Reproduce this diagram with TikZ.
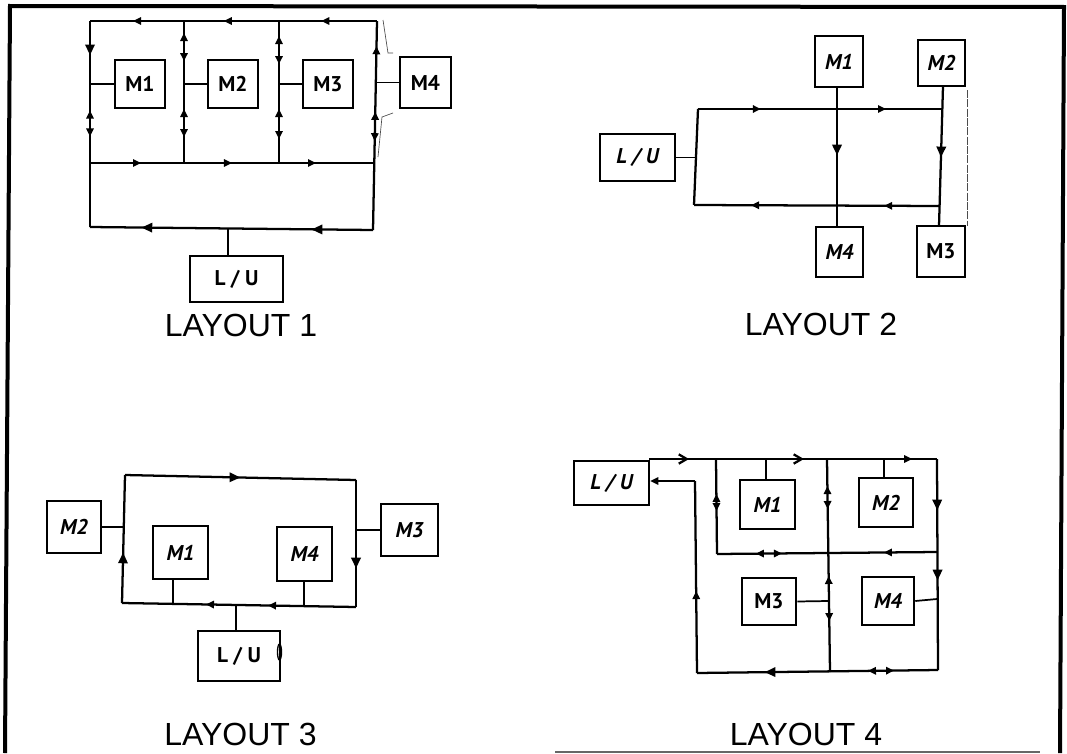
\documentclass[tikz,border=0pt]{standalone}
\usepackage{fontspec}
\setmainfont{Liberation Sans}
\newfontfamily\handfont{PT Sans}
\usetikzlibrary{arrows.meta,decorations.markings,calc}
\tikzset{
  bx/.style 2 args={draw,line width=1.9pt,inner sep=0pt,font=\handfont\bfseries\fontsize{16}{16}\selectfont,minimum width=#1*0.75pt,minimum height=#2*0.75pt},
  bus/.style={line width=1.7pt,line join=miter},
  stub/.style={line width=1.3pt},
  captxt/.style={font=\fontsize{24}{26}\selectfont,inner sep=0pt},
  mf/.style={postaction={decorate,decoration={markings,mark=at position #1 with {\pgftransformxshift{3pt}\arrow{Triangle[length=6pt,width=5.5pt]}}}}},
  mb/.style={postaction={decorate,decoration={markings,mark=at position #1 with {\pgftransformxshift{-3pt}\arrowreversed{Triangle[length=6pt,width=5.5pt]}}}}},
  mg/.style={postaction={decorate,decoration={markings,mark=at position #1 with {\pgftransformxshift{4pt}\arrow{Triangle[length=8pt,width=7pt]}}}}},
  mo/.style={postaction={decorate,decoration={markings,mark=at position #1 with {\pgftransformxshift{3pt}\arrow{Straight Barb[length=6pt,width=7pt]}}}}},
  scan/.style={line width=0.5pt,black!70},
}
\begin{document}
\begin{tikzpicture}[x=0.75pt,y=-0.75pt]
\useasboundingbox (0,0) rectangle (1067,753);
\fill[white] (0,0) rectangle (1067,753);
\draw[line width=3pt] (5,753) -- (10,6) -- (1064,7) -- (1060,753);
\draw[line width=1pt,black!60] (555,752) -- (1040,752);

% LAYOUT 1
\node[bx={50}{48}] (a1) at (140,84) {M1};
\node[bx={50}{48}] (a2) at (233,84) {M2};
\node[bx={50}{48}] (a3) at (328,84) {M3};
\node[bx={51}{51}] (a4) at (425.5,82.5) {M4};
\node[bx={93}{46}] (alu) at (236.5,279) {L / U};
\coordinate (atl) at (90,21);
\coordinate (atr) at (377,21);
\coordinate (aml) at (90,163);
\coordinate (amr) at (375,163);
\coordinate (abl) at (90,227);
\coordinate (abr) at (373,230);
\coordinate (at2) at (184,21);
\coordinate (am2) at (184,163);
\coordinate (at3) at (279,21);
\coordinate (am3) at (279,163);
\coordinate (alus) at (228,229);
\draw[bus,mf=.18,mf=.52,mf=.836] (atr) -- (atl);
\draw[bus,mg=.14,mb=.454,mf=.541] (atl) -- (abl);
\draw[bus,mb=.14,mb=.454,mf=.556] (atr) -- (abr);
\draw[bus,mb=.113,mf=.254,mb=.648,mf=.789] (at2) -- (am2);
\draw[bus,mb=.134,mf=.275,mb=.648,mf=.803] (at3) -- (am3);
\draw[bus,mf=.165,mf=.484,mf=.779] (aml) -- (amr);
\draw[bus,mg=.198,mg=.799] (abr) -- (abl);
\draw[stub] (a1.west) -- (a1.west -| atl);
\draw[stub] (a2.west) -- (a2.west -| at2);
\draw[stub] (a3.west) -- (a3.west -| at3);
\draw[stub] (a4.west) -- (a4.west -| amr);
\draw[stub] (alus) -- (alus |- alu.north);
\node[captxt] (ac) at (241,325) {LAYOUT 1};
\draw[scan] (383,20) -- (388,53) -- (393,53);
\draw[scan] (393,113) -- (382,117) -- (378,157);

% LAYOUT 2
\node[bx={75}{47}] (blu) at (637.5,157.5) {\itshape L / U};
\node[bx={48}{51}] (b1) at (839,61.5) {\itshape M1};
\node[bx={47}{46}] (b2) at (941.5,63) {\itshape M2};
\node[bx={47}{50}] (b4) at (839.5,252) {\itshape M4};
\node[bx={48}{51}] (b3) at (941,251.5) {M3};
\coordinate (btl) at (698,109);
\coordinate (btr) at (943,109);
\coordinate (bbl) at (694,205);
\coordinate (bbr) at (940,206);
\coordinate (bm1) at (837,87);
\coordinate (bm4) at (837,227);
\coordinate (bm2) at (943,86);
\coordinate (bm3) at (939,226);
\draw[bus] (btl) -- (bbl);
\draw[bus,mf=.24,mf=.751] (btl) -- (btr);
\draw[bus,mf=.211,mf=.752] (bbr) -- (bbl);
\draw[bus,mg=.45] (bm1) -- (bm4);
\draw[bus,mg=.471] (bm2) -- (bm3);
\draw[stub] (blu.east) -- (blu.east -| bbl) -- +(2,0);
\node[captxt] (bc) at (821,324) {LAYOUT 2};
\draw[scan,dash pattern=on 6pt off 1pt] (967,90) -- (967,226);

% LAYOUT 3
\node[bx={54}{52}] (c2) at (74,527) {\itshape M2};
\node[bx={55}{53}] (c1) at (180.5,552.5) {\itshape M1};
\node[bx={55}{54}] (c4) at (304.5,554) {\itshape M4};
\node[bx={57}{52}] (c3) at (409.5,530) {\itshape M3};
\node[bx={82}{50}] (clu) at (239,656) {L / U};
\coordinate (ctl) at (125,475);
\coordinate (ctr) at (356,480);
\coordinate (cbl) at (122,603);
\coordinate (cbr) at (356,607);
\coordinate (cs1) at (173,604);
\coordinate (cs4) at (304,606);
\coordinate (cslu) at (236,606);
\draw[bus,mg=.476] (ctl) -- (ctr);
\draw[bus,mg=.654] (ctr) -- (cbr);
\draw[bus,mf=.359,mf=.624] (cbr) -- (cbl);
\draw[bus,mg=.352] (cbl) -- (ctl);
\draw[stub] (c2.east) -- (c2.east -| ctl);
\draw[stub] (c3.west) -- (c3.west -| ctr);
\draw[stub] (cs1) -- (cs1 |- c1.south);
\draw[stub] (cs4) -- (cs4 |- c4.south);
\draw[stub] (cslu) -- (cslu |- clu.north);
\draw[line width=1pt] (279.5,652) ellipse[x radius=2,y radius=8];
\node[captxt] (cc) at (240.5,734) {LAYOUT 3};

% LAYOUT 4
\node[bx={75}{44}] (dlu) at (611.5,483) {\itshape L / U};
\node[bx={55}{49}] (d1) at (767.5,504.5) {\itshape M1};
\node[bx={54}{49}] (d2) at (886,502.5) {\itshape M2};
\node[bx={54}{47}] (d3) at (769,601.5) {M3};
\node[bx={52}{48}] (d4) at (888,601) {\itshape M4};
\coordinate (dts) at (649,459);
\coordinate (dtr) at (937,459);
\coordinate (dbr) at (938,670);
\coordinate (dbl) at (697,673);
\coordinate (drt) at (695,481);
\coordinate (dv1t) at (716,459);
\coordinate (dv1b) at (717,554);
\coordinate (dmr) at (937,552);
\coordinate (dv2t) at (827,459);
\coordinate (dv2b) at (830,672);
\coordinate (ds1) at (766,459);
\coordinate (ds2) at (884,459);
\coordinate (ds3) at (828,601);
\coordinate (ds4) at (937,599);
\draw[bus,mo=.125,mo=.524,mf=.9] (dts) -- (dtr);
\draw[bus,mg=.218,mg=.55] (dtr) -- (dbr);
\draw[bus,mf=.274,mb=.199,mg=.697] (dbr) -- (dbl);
\draw[bus,mf=.406] (dbl) -- (drt);
\draw[bus,-{Triangle[length=6pt,width=5.5pt]}] (drt) -- (drt -| dlu.east);
\draw[bus,mb=.41,mf=.505] (dv1t) -- (dv1b);
\draw[bus,mb=.146,mf=.216,mb=.568,mf=.742] (dv2t) -- (dv2b);
\draw[bus,mb=.195,mf=.277,mb=.777] (dv1b) -- (dmr);
\draw[stub] (ds1) -- (ds1 |- d1.north);
\draw[stub] (ds2) -- (ds2 |- d2.north);
\draw[stub] (d3.east) -- (ds3);
\draw[stub] (d4.east) -- (ds4);
\node[captxt] (dc) at (806,734) {LAYOUT 4};
\end{tikzpicture}
\end{document}
